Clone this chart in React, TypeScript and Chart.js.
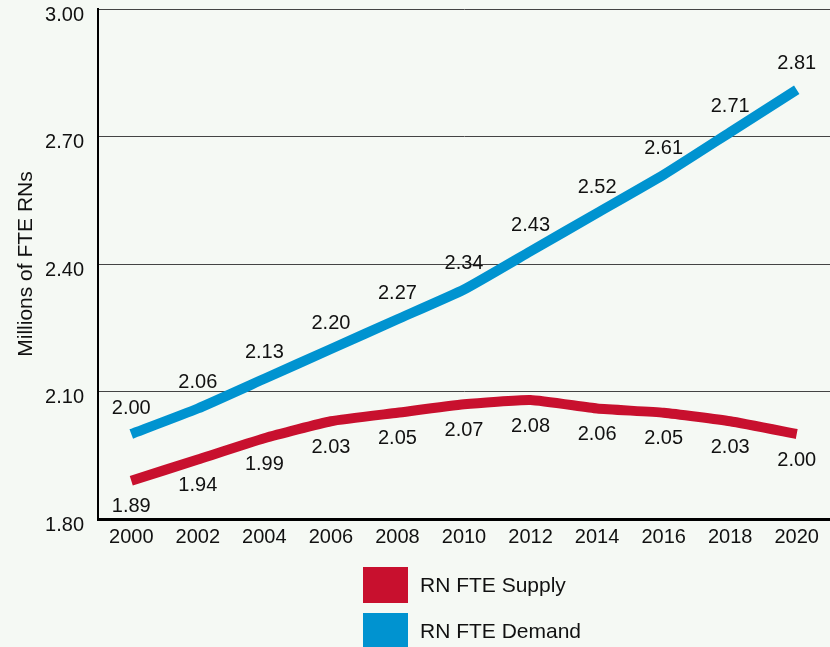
import React, { useEffect, useRef } from "react";
import { Chart, registerables } from "chart.js";

Chart.register(...registerables);

const years = ["2000", "2002", "2004", "2006", "2008", "2010", "2012", "2014", "2016", "2018", "2020"];
const supply = [1.89, 1.94, 1.99, 2.03, 2.05, 2.07, 2.08, 2.06, 2.05, 2.03, 2.0];
const demand = [2.0, 2.06, 2.13, 2.2, 2.27, 2.34, 2.43, 2.52, 2.61, 2.71, 2.81];
const yTicks = [1.8, 2.1, 2.4, 2.7, 3.0];

const RED = "#c8102e";
const BLUE = "#0093d0";
const BG = "#f5f9f4";
const FONT = "'Liberation Sans', Arial, Helvetica, sans-serif";

const labelPlugin = {
  id: "valueLabels",
  afterDatasetsDraw(chart: any) {
    const ctx = chart.ctx;
    ctx.save();
    ctx.font = `20px ${FONT}`;
    ctx.fillStyle = "#111";
    ctx.textAlign = "center";
    ctx.textBaseline = "middle";
    chart.data.datasets.forEach((ds: any, i: number) => {
      const meta = chart.getDatasetMeta(i);
      const dir = ds.labelSide === "below" ? 1 : -1;
      meta.data.forEach((pt: any, j: number) => {
        ctx.fillText(Number(ds.data[j]).toFixed(2), pt.x, pt.y + dir * 26);
      });
    });
    ctx.restore();
  },
};

export default function App() {
  const ref = useRef<HTMLCanvasElement | null>(null);

  useEffect(() => {
    document.body.style.margin = "0";
    document.body.style.background = BG;
    const chart = new Chart(ref.current as HTMLCanvasElement, {
      type: "line",
      data: {
        labels: years,
        datasets: [
          {
            label: "RN FTE Demand",
            data: demand,
            borderColor: BLUE,
            backgroundColor: BLUE,
            borderWidth: 10,
            pointRadius: 0,
            tension: 0.15,
            borderCapStyle: "butt",
            labelSide: "above",
          } as any,
          {
            label: "RN FTE Supply",
            data: supply,
            borderColor: RED,
            backgroundColor: RED,
            borderWidth: 10,
            pointRadius: 0,
            tension: 0.15,
            borderCapStyle: "butt",
            labelSide: "below",
          } as any,
        ],
      },
      options: {
        animation: false,
        responsive: false,
        maintainAspectRatio: false,
        layout: { padding: { top: 9, right: 0, left: 0, bottom: 0 } },
        plugins: {
          legend: { display: false },
          tooltip: { enabled: false },
        },
        scales: {
          x: {
            type: "category",
            offset: true,
            grid: { display: false, drawTicks: false },
            border: { display: true, color: "#000", width: 3 },
            ticks: {
              color: "#111",
              font: { size: 20, family: FONT },
              padding: 6,
              maxRotation: 0,
              autoSkip: false,
            },
            afterFit(scale: any) {
              scale.height = 128;
              scale.paddingLeft = 0;
              scale.paddingRight = 0;
            },
          },
          y: {
            min: 1.8,
            max: 3.0,
            afterBuildTicks(scale: any) {
              scale.ticks = yTicks.map((v) => ({ value: v }));
            },
            grid: { color: "#444", lineWidth: 1, drawTicks: false },
            border: { display: true, color: "#000", width: 2 },
            ticks: {
              color: "#111",
              font: { size: 20, family: FONT },
              padding: 14,
              labelOffset: 6,
              callback: (v: any) => Number(v).toFixed(2),
            },
            title: {
              display: true,
              text: "Millions of FTE RNs",
              color: "#111",
              font: { size: 21, family: FONT },
              padding: { top: 14, bottom: 0 },
            },
            afterFit(scale: any) {
              scale.width = 98;
              scale.paddingTop = 0;
              scale.paddingBottom = 0;
            },
          },
        },
      },
      plugins: [labelPlugin],
    });
    return () => chart.destroy();
  }, []);

  const legendItem = (color: string, text: string, top: number) => (
    <div style={{ position: "absolute", left: 363, top, display: "flex", alignItems: "center" }}>
      <div style={{ width: 45, height: 36, background: color }} />
      <span style={{ marginLeft: 12, font: `21px ${FONT}`, color: "#111" }}>{text}</span>
    </div>
  );

  return (
    <div style={{ position: "fixed", left: 0, top: 0, width: 830, height: 647, background: BG, overflow: "hidden" }}>
      <canvas ref={ref} width={830} height={647} style={{ position: "absolute", left: 0, top: 0 }} />
      {legendItem(RED, "RN FTE Supply", 567)}
      {legendItem(BLUE, "RN FTE Demand", 613)}
    </div>
  );
}
